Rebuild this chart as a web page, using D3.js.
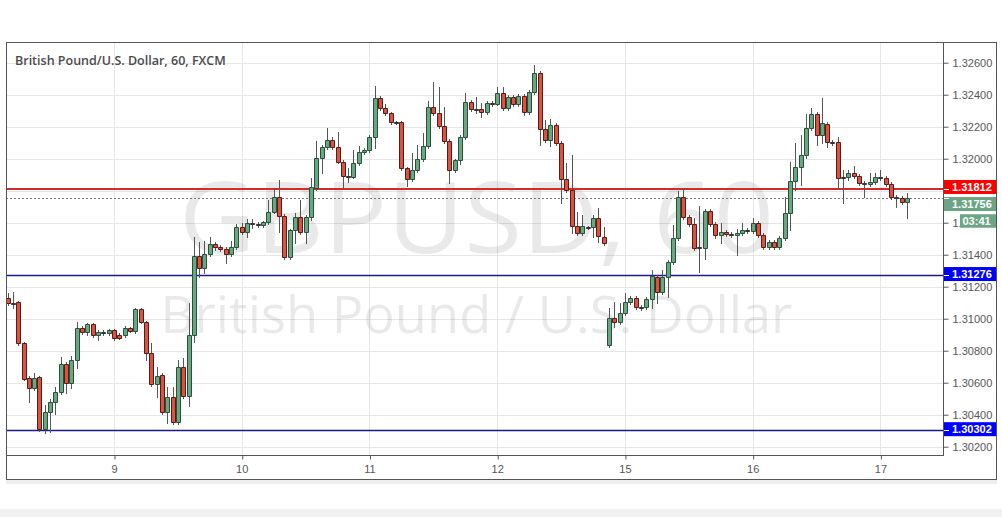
<!DOCTYPE html>
<html><head><meta charset="utf-8">
<script src="https://cdn.jsdelivr.net/npm/d3@7"></script>
<style>
html,body{margin:0;padding:0;background:#fff;}
svg{display:block;}
</style></head><body>
<svg id="chart" width="1002" height="517"></svg>
<script>
// ---------------- data ----------------
const title = "British Pound/U.S. Dollar, 60, FXCM";
const watermarkSymbol = "GBPUSD, 60";
const watermarkName = "British Pound / U.S. Dollar";
// hourly trading sessions shown (weekend gap removed)
const sessions = [["2018-10-08T04:00:00Z", "2018-10-12T20:00:00Z"], ["2018-10-14T21:00:00Z", "2018-10-17T05:00:00Z"]];
const dayLabels = ["9", "10", "11", "12", "15", "16", "17"];
const priceTicks = [1.302, 1.304, 1.306, 1.308, 1.310, 1.312, 1.314, 1.316, 1.318, 1.320, 1.322, 1.324, 1.326];

const opens = [
1.31130,1.31098,1.31105,1.30848,1.30630,1.30567,1.30636,1.30311,1.30417,1.30480,
1.30542,1.30717,1.30598,1.30742,1.30942,1.30917,1.30967,1.30898,1.30917,1.30911,
1.30930,1.30898,1.30898,1.30942,1.30923,1.31061,1.30980,1.30786,1.30592,1.30648,
1.30417,1.30511,1.30355,1.30698,1.30517,1.30898,1.31392,1.31317,1.31405,1.31467,
1.31448,1.31436,1.31405,1.31448,1.31573,1.31542,1.31598,1.31592,1.31586,1.31605,
1.31667,1.31761,1.31642,1.31386,1.31555,1.31636,1.31542,1.31636,1.31817,1.32005,
1.32073,1.32117,1.32073,1.31980,1.31892,1.31886,1.31973,1.32042,1.32055,1.32136,
1.32380,1.32317,1.32286,1.32230,1.32230,1.31942,1.31873,1.31930,1.31998,1.32080,
1.32323,1.32286,1.32205,1.32111,1.31930,1.31992,1.32136,1.32355,1.32311,1.32311,
1.32292,1.32348,1.32342,1.32411,1.32317,1.32386,1.32342,1.32392,1.32292,1.32417,
1.32536,1.32186,1.32117,1.32211,1.32098,1.31873,1.31805,1.31580,1.31536,1.31573,
1.31573,1.31630,1.31511,1.30836,1.31005,1.30980,1.31036,1.31105,1.31130,1.31073,
1.31073,1.31123,1.31261,1.31167,1.31261,1.31355,1.31505,1.31761,1.31636,1.31592,
1.31448,1.31442,1.31673,1.31592,1.31523,1.31542,1.31530,1.31523,1.31536,1.31555,
1.31548,1.31598,1.31523,1.31448,1.31480,1.31448,1.31505,1.31661,1.31861,1.31948,
1.32023,1.32192,1.32280,1.32148,1.32217,1.32105,1.32105,1.31880,1.31886,1.31911,
1.31892,1.31848,1.31842,1.31855,1.31886,1.31880,1.31842,1.31761,1.31755,1.31730];

const highs = [
1.31161,1.31167,1.31111,1.30855,1.30642,1.30661,1.30642,1.30461,1.30498,1.30573,
1.30761,1.30730,1.30767,1.30980,1.30955,1.30973,1.30973,1.30930,1.30930,1.30936,
1.30936,1.30911,1.30955,1.30948,1.31067,1.31067,1.30986,1.30848,1.30698,1.30661,
1.30573,1.30573,1.30742,1.30755,1.31098,1.31511,1.31480,1.31486,1.31511,1.31480,
1.31461,1.31448,1.31486,1.31592,1.31598,1.31623,1.31623,1.31605,1.31611,1.31742,
1.31817,1.31867,1.31655,1.31561,1.31661,1.31742,1.31648,1.31880,1.32111,1.32086,
1.32192,1.32136,1.32167,1.31992,1.31942,1.32055,1.32080,1.32067,1.32148,1.32455,
1.32392,1.32342,1.32292,1.32236,1.32236,1.31948,1.32036,1.32086,1.32161,1.32361,
1.32480,1.32448,1.32323,1.32123,1.31998,1.32148,1.32411,1.32367,1.32386,1.32348,
1.32361,1.32361,1.32448,1.32448,1.32398,1.32398,1.32405,1.32405,1.32430,1.32586,
1.32548,1.32242,1.32248,1.32223,1.32111,1.31973,1.32023,1.31667,1.31648,1.31580,
1.31648,1.31692,1.31573,1.31067,1.31105,1.31098,1.31161,1.31142,1.31142,1.31086,
1.31136,1.31305,1.31273,1.31305,1.31367,1.31586,1.31798,1.31817,1.31648,1.31630,
1.31705,1.31686,1.31686,1.31605,1.31598,1.31555,1.31542,1.31561,1.31598,1.31567,
1.31630,1.31611,1.31536,1.31492,1.31492,1.31517,1.31761,1.31980,1.32098,1.32148,
1.32280,1.32317,1.32292,1.32380,1.32230,1.32117,1.32136,1.31930,1.31930,1.31955,
1.31905,1.31861,1.31911,1.31911,1.31930,1.31892,1.31855,1.31773,1.31767,1.31786];

const lows = [
1.31086,1.31067,1.30836,1.30617,1.30480,1.30555,1.30298,1.30286,1.30292,1.30405,
1.30530,1.30536,1.30567,1.30692,1.30905,1.30898,1.30886,1.30867,1.30898,1.30898,
1.30867,1.30873,1.30886,1.30917,1.30911,1.30973,1.30742,1.30580,1.30511,1.30405,
1.30348,1.30342,1.30342,1.30505,1.30455,1.30855,1.31261,1.31286,1.31392,1.31430,
1.31423,1.31348,1.31392,1.31436,1.31530,1.31511,1.31567,1.31573,1.31573,1.31592,
1.31661,1.31542,1.31373,1.31373,1.31473,1.31530,1.31473,1.31617,1.31805,1.31911,
1.32061,1.32061,1.31973,1.31823,1.31855,1.31880,1.31961,1.32030,1.32042,1.32067,
1.32305,1.32273,1.32217,1.32217,1.31930,1.31830,1.31861,1.31917,1.31986,1.32067,
1.32273,1.32192,1.32098,1.31848,1.31917,1.31967,1.32123,1.32298,1.32286,1.32261,
1.32280,1.32330,1.32336,1.32305,1.32305,1.32330,1.32330,1.32273,1.32280,1.32405,
1.32086,1.32105,1.32080,1.32086,1.31723,1.31792,1.31536,1.31523,1.31523,1.31561,
1.31511,1.31480,1.31461,1.30823,1.30948,1.30967,1.31023,1.31092,1.31061,1.31055,
1.31061,1.31067,1.31098,1.31155,1.31136,1.31342,1.31492,1.31623,1.31580,1.31430,
1.31292,1.31373,1.31580,1.31505,1.31473,1.31517,1.31511,1.31398,1.31523,1.31536,
1.31536,1.31511,1.31436,1.31436,1.31436,1.31436,1.31492,1.31555,1.31805,1.31836,
1.32005,1.32180,1.32086,1.32098,1.32073,1.32086,1.31811,1.31723,1.31867,1.31880,
1.31836,1.31761,1.31830,1.31842,1.31867,1.31830,1.31748,1.31698,1.31717,1.31630];

const closes = [
1.31098,1.31092,1.30848,1.30623,1.30567,1.30630,1.30311,1.30417,1.30480,1.30542,
1.30717,1.30598,1.30742,1.30942,1.30917,1.30967,1.30898,1.30917,1.30911,1.30930,
1.30880,1.30880,1.30942,1.30923,1.31061,1.30980,1.30786,1.30592,1.30642,1.30417,
1.30511,1.30355,1.30698,1.30517,1.30898,1.31392,1.31317,1.31405,1.31467,1.31448,
1.31436,1.31405,1.31448,1.31573,1.31542,1.31598,1.31592,1.31586,1.31605,1.31667,
1.31761,1.31642,1.31386,1.31555,1.31636,1.31542,1.31636,1.31823,1.32005,1.32073,
1.32117,1.32073,1.31980,1.31892,1.31886,1.31973,1.32042,1.32055,1.32136,1.32380,
1.32317,1.32286,1.32230,1.32223,1.31942,1.31873,1.31930,1.31998,1.32080,1.32323,
1.32286,1.32205,1.32111,1.31930,1.31992,1.32136,1.32355,1.32311,1.32305,1.32292,
1.32348,1.32342,1.32411,1.32317,1.32386,1.32342,1.32392,1.32292,1.32417,1.32536,
1.32186,1.32117,1.32211,1.32098,1.31873,1.31805,1.31580,1.31536,1.31580,1.31567,
1.31630,1.31517,1.31473,1.31005,1.30980,1.31036,1.31105,1.31130,1.31073,1.31067,
1.31123,1.31267,1.31167,1.31261,1.31355,1.31505,1.31761,1.31636,1.31592,1.31442,
1.31442,1.31673,1.31592,1.31523,1.31542,1.31530,1.31523,1.31536,1.31555,1.31548,
1.31598,1.31523,1.31448,1.31480,1.31448,1.31505,1.31661,1.31861,1.31948,1.32023,
1.32192,1.32280,1.32148,1.32223,1.32105,1.32098,1.31880,1.31886,1.31911,1.31892,
1.31848,1.31842,1.31855,1.31886,1.31880,1.31842,1.31761,1.31755,1.31730,1.31756];

const resistanceLevel = 1.31812;
const supportLevels = [1.31276, 1.30302];
const lastPrice = 1.31756;
const countdown = "03:41";

// ---------------- layout ----------------
const frame = {left: 6, top: 43, plotRight: 943, plotBottom: 455, right: 996, bottom: 480};
const svg = d3.select("#chart");
const FONT = "'Liberation Sans', Arial, sans-serif";

// times
const times = [];
sessions.forEach(([a, b]) => {
  d3.utcHour.range(new Date(a), new Date(+new Date(b) + 1)).forEach(t => times.push(+t));
});
const candles = times.map((t, i) => ({t, o: opens[i], h: highs[i], l: lows[i], c: closes[i]}));
const midnights = times.filter(t => new Date(t).getUTCHours() === 0);

const x = d3.scalePoint().domain(times).range([7.55, 907]);
const y = d3.scaleLinear().domain([1.302, 1.326]).range([446.7, 62.7]);

// background pieces
svg.append("rect").attr("x", 0).attr("y", 509).attr("width", 1002).attr("height", 8).attr("fill", "#f2f2f2");
svg.append("rect").attr("x", frame.left).attr("y", frame.bottom).attr("width", frame.right - frame.left + 1).attr("height", 4).attr("fill", "#eeeeee");
svg.append("rect").attr("x", frame.left + 0.5).attr("y", frame.top - 0.5)
  .attr("width", frame.right - frame.left).attr("height", frame.bottom - frame.top)
  .attr("fill", "#fff").attr("stroke", "#555").attr("stroke-width", 1);

// clip for plot
svg.append("clipPath").attr("id", "plotClip").append("rect")
  .attr("x", frame.left + 1).attr("y", frame.top).attr("width", frame.plotRight - frame.left - 1).attr("height", frame.plotBottom - frame.top);

const plot = svg.append("g").attr("clip-path", "url(#plotClip)");

// grid
plot.append("g").selectAll("line").data(priceTicks).join("line")
  .attr("x1", frame.left).attr("x2", frame.plotRight)
  .attr("y1", d => Math.round(y(d)) + 0.5).attr("y2", d => Math.round(y(d)) + 0.5)
  .attr("stroke", "#e6e6e6");
plot.append("g").selectAll("line").data(midnights).join("line")
  .attr("x1", d => Math.round(x(d)) + 0.5).attr("x2", d => Math.round(x(d)) + 0.5)
  .attr("y1", frame.top).attr("y2", frame.plotBottom)
  .attr("stroke", "#e6e6e6");

// watermark
const wmX = (frame.left + frame.plotRight) / 2 + 2;
plot.append("text").text(watermarkSymbol)
  .attr("x", wmX).attr("y", 253).attr("text-anchor", "middle")
  .attr("font-family", "'Open Sans', 'Noto Sans', sans-serif").attr("font-size", 98)
  .attr("textLength", 595).attr("lengthAdjust", "spacingAndGlyphs")
  .attr("fill", "#000").attr("fill-opacity", 0.085);
plot.append("text").text(watermarkName)
  .attr("x", wmX).attr("y", 333).attr("text-anchor", "middle")
  .attr("font-family", "'Open Sans', 'Noto Sans', sans-serif").attr("font-size", 51)
  .attr("textLength", 632).attr("lengthAdjust", "spacingAndGlyphs")
  .attr("fill", "#000").attr("fill-opacity", 0.085);

// level lines
plot.append("line").attr("x1", frame.left).attr("x2", frame.plotRight)
  .attr("y1", Math.round(y(resistanceLevel))).attr("y2", Math.round(y(resistanceLevel)))
  .attr("stroke", "#d42a2a").attr("stroke-width", 2);
plot.append("g").selectAll("line").data(supportLevels).join("line")
  .attr("x1", frame.left).attr("x2", frame.plotRight)
  .attr("y1", d => Math.round(y(d)) + 0.5).attr("y2", d => Math.round(y(d)) + 0.5)
  .attr("stroke", "#1a1a8a").attr("stroke-width", 1.3);
plot.append("line").attr("x1", frame.left).attr("x2", frame.plotRight)
  .attr("y1", Math.round(y(lastPrice)) + 0.5).attr("y2", Math.round(y(lastPrice)) + 0.5)
  .attr("stroke", "#777").attr("stroke-dasharray", "2,2");

// candles
const UP = {fill: "#6ba583", stroke: "#225437"};
const DOWN = {fill: "#d75442", stroke: "#5b1a13"};
const cg = plot.append("g");
candles.forEach(d => {
  const pc = Math.round(x(d.t)) + 0.5;
  const up = d.c >= d.o;
  const col = up ? UP : DOWN;
  const t = Math.round(y(Math.max(d.o, d.c))) + 0.5;
  const b = Math.round(y(Math.min(d.o, d.c))) + 0.5;
  cg.append("line").attr("x1", pc).attr("x2", pc)
    .attr("y1", Math.round(y(d.h))).attr("y2", Math.round(y(d.l)) + 1)
    .attr("stroke", "#555");
  cg.append("path").attr("d", `M${pc - 2},${t}H${pc + 2}V${b}H${pc - 2}Z`)
    .attr("fill", col.fill).attr("stroke", (b - t) < 1.5 ? "#333" : col.stroke);
});

// title
svg.append("text").text(title).attr("x", 15).attr("y", 64.5)
  .attr("font-family", "'Open Sans', 'Noto Sans', sans-serif").attr("font-weight", 600)
  .attr("font-size", 12.5).attr("fill", "#4a4a4a");

// axis lines
svg.append("line").attr("x1", frame.plotRight + 0.5).attr("x2", frame.plotRight + 0.5)
  .attr("y1", frame.top - 1).attr("y2", frame.plotBottom + 1).attr("stroke", "#555");
svg.append("line").attr("x1", frame.left).attr("x2", frame.plotRight + 1)
  .attr("y1", frame.plotBottom + 0.5).attr("y2", frame.plotBottom + 0.5).attr("stroke", "#555");

// y axis (the 1.31800 label is fully hidden behind the price labels in the original)
const yAxis = svg.append("g").attr("transform", `translate(${frame.plotRight + 0.5},0)`)
  .call(d3.axisRight(y).tickValues(priceTicks).tickFormat(d3.format(".5f")).tickSize(5).tickPadding(4));
yAxis.select(".domain").remove();
yAxis.selectAll("line").attr("stroke", "#555");
yAxis.selectAll("text").attr("font-family", FONT).attr("font-size", 11).attr("fill", "#555");
yAxis.selectAll(".tick").filter(d => Math.abs(d - 1.318) < 1e-9).select("text").remove();

// x axis
const xAxis = svg.append("g").attr("transform", `translate(0,${frame.plotBottom + 0.5})`)
  .call(d3.axisBottom(x).tickValues(midnights).tickFormat((d, i) => dayLabels[i]).tickSize(4).tickPadding(6));
xAxis.select(".domain").remove();
xAxis.selectAll("line").attr("stroke", "#555").attr("transform", "translate(0.5,0)");
xAxis.selectAll("text").attr("font-family", FONT).attr("font-size", 11).attr("fill", "#555");

// price labels
function priceLabel(value, yc, bg) {
  const g = svg.append("g");
  g.append("rect").attr("x", frame.plotRight + 1).attr("y", yc - 7).attr("width", frame.right - frame.plotRight - 1).attr("height", 14).attr("fill", bg);
  g.append("line").attr("x1", frame.plotRight + 1).attr("x2", frame.plotRight + 6).attr("y1", Math.round(y(value)) + 0.5).attr("y2", Math.round(y(value)) + 0.5).attr("stroke", "#fff");
  g.append("text").text(d3.format(".5f")(value)).attr("x", frame.plotRight + 9).attr("y", yc).attr("dy", "0.35em")
    .attr("font-family", FONT).attr("font-size", 11).attr("font-weight", "bold").attr("fill", "#fff");
}
priceLabel(resistanceLevel, y(resistanceLevel) - 1.8, "#ff0000");
priceLabel(lastPrice, y(lastPrice) + 6.3, "#6ba583");
priceLabel(supportLevels[0], y(supportLevels[0]) - 0.5, "#0000ff");
priceLabel(supportLevels[1], y(supportLevels[1]) - 1.2, "#0000ff");
// countdown
svg.append("rect").attr("x", 960).attr("y", y(lastPrice) + 16.5).attr("width", frame.right - 960).attr("height", 13.5).attr("fill", "#6ba583");
svg.append("text").text(countdown).attr("x", 962.5).attr("y", y(lastPrice) + 23.2).attr("dy", "0.35em")
  .attr("font-family", FONT).attr("font-size", 11).attr("font-weight", "bold").attr("fill", "#fff");
</script>
</body></html>
